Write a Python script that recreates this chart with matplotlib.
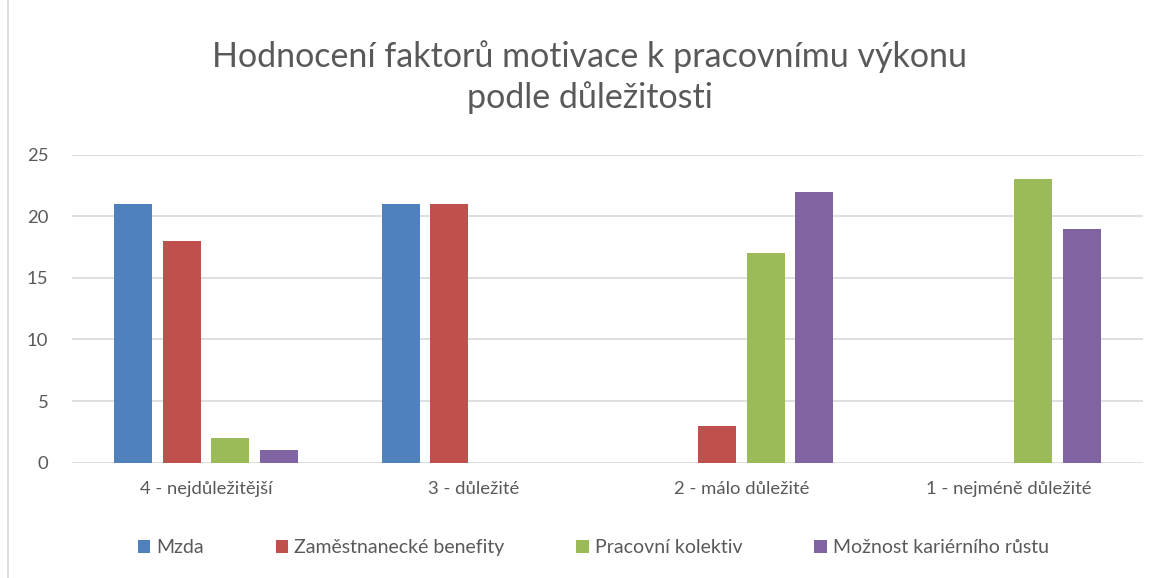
"""
Bar chart: Hodnocení faktorů motivace k pracovnímu výkonu.
"""

import numpy as np
import matplotlib.pyplot as plt
from matplotlib.patches import Rectangle

categories = ["4 - nejdůležitější", "3 - důležité", "2 - málo důležité", "1 - nejméně důležité"]
series_names = ["Mzda", "Zaměstnanecké benefity", "Pracovní kolektiv", "Možnost kariérního růstu"]
mzda = [21, 21, 0, 0]
benefity = [18, 21, 3, 0]
kolektiv = [2, 0, 17, 23]
kariera = [1, 0, 22, 19]
colors = ["#4F81BD", "#C0504D", "#9BBB59", "#8064A2"]

plt.rcParams["font.family"] = ["Lato", "DejaVu Sans"]
text_color = "#595959"

fig = plt.figure(figsize=(11.61, 5.78), dpi=100)
ax = fig.add_axes([72 / 1161, 0.1995, (1143 - 72) / 1161, 0.7324 - 0.1995])

x = np.arange(len(categories))
step = 0.181
width = 0.142
for i, (name, vals) in enumerate(zip(series_names, [mzda, benefity, kolektiv, kariera])):
    ax.bar(x + (i - 1.5) * step, vals, width, color=colors[i], label=name, zorder=3)

ax.set_xlim(-0.5, len(categories) - 0.5)
ax.set_ylim(0, 25)
ax.set_yticks(range(0, 26, 5))
ax.grid(axis="y", color="#D9D9D9", linewidth=1.2, zorder=0)
for s in ax.spines.values():
    s.set_visible(False)
ax.tick_params(length=0, labelsize=13.3, colors=text_color)
ax.tick_params(axis="y", pad=17)
ax.tick_params(axis="x", pad=13)
ax.set_xticks(x)
ax.set_xticklabels(categories)

fig.text(0.508, 0.866, "Hodnocení faktorů motivace k pracovnímu výkonu\npodle důležitosti",
         ha="center", va="center", fontsize=24.5, color=text_color, linespacing=1.3)

leg = fig.legend(loc="center", bbox_to_anchor=(0.511, 0.052), ncol=4, frameon=False,
                 fontsize=14, handlelength=0.65, handleheight=0.65, handletextpad=0.3,
                 columnspacing=3.7)
for t in leg.get_texts():
    t.set_color(text_color)

fig.patches.append(Rectangle((8 / 1161, -0.01), 1.1, 1.1, transform=fig.transFigure,
                             fill=False, edgecolor="#D9D9D9", linewidth=1.2))

plt.savefig("out.png", dpi=100)
